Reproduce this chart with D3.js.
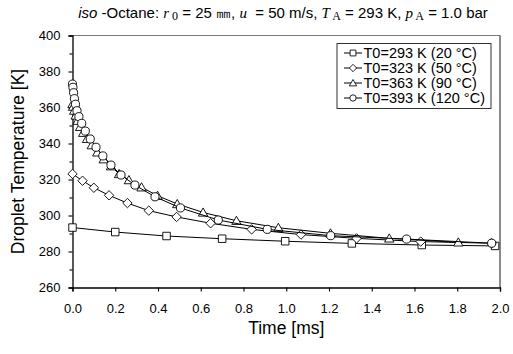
<!DOCTYPE html>
<html>
<head>
<meta charset="utf-8">
<script src="https://cdn.jsdelivr.net/npm/d3@7"></script>
<style>
  body { margin: 0; background: #fff; }
  svg { display: block; }
</style>
</head>
<body>
<svg id="chart" width="513" height="354"></svg>
<script>
// values
var seriesNames = ["T0=293 K (20 °C)", "T0=323 K (50 °C)", "T0=363 K (90 °C)", "T0=393 K (120 °C)"];
var seriesSymbols = ["square", "diamond", "triangle", "circle"];

var t293 = [0, 0.2, 0.44, 0.7, 0.995, 1.307, 1.634, 1.977];
var T293 = [293.3, 290.8, 288.6, 287.1, 285.7, 284.5, 283.6, 283.1];

var t323 = [0, 0.047, 0.1, 0.171, 0.257, 0.357, 0.487, 0.646, 0.838, 1.069, 1.329, 1.629, 1.961];
var T323 = [323.1, 319.3, 315.4, 311.2, 306.9, 302.7, 299.2, 295.7, 292.3, 289.4, 287.3, 285.5, 284.6];

var t363 = [0, 0.003, 0.008, 0.015, 0.024, 0.036, 0.05, 0.068, 0.09, 0.116, 0.146, 0.18, 0.218,
            0.264, 0.323, 0.398, 0.49, 0.611, 0.767, 0.963, 1.207, 1.482, 1.805];
var T363 = [362, 360.5, 358.3, 355.6, 352.7, 349.3, 346, 342.6, 339.1, 335.1, 331.3, 327.4, 323.1,
            319.7, 315.7, 311, 306.4, 301.7, 297.1, 293.2, 290.1, 287.3, 285.1];

var t393 = [0, 0.002, 0.005, 0.009, 0.014, 0.021, 0.03, 0.043, 0.06, 0.083, 0.11, 0.142, 0.18,
            0.227, 0.292, 0.386, 0.505, 0.682, 0.911, 1.208, 1.563, 1.961];
var T393 = [373, 371.2, 368.2, 364.9, 361.8, 358.2, 354.9, 351.2, 346.9, 342.5, 337.9, 333.1, 328,
            322.5, 316.9, 310.4, 304.2, 297.5, 292.3, 288.8, 286.9, 284.6];

var xTicks = [0, 0.2, 0.4, 0.6, 0.8, 1.0, 1.2, 1.4, 1.6, 1.8, 2.0];
var yTicks = [260, 280, 300, 320, 340, 360, 380, 400];

function drawChart() {
    var series = [[t293, T293], [t323, T323], [t363, T363], [t393, T393]].map((s, k) => ({
        name: seriesNames[k],
        symbol: seriesSymbols[k],
        values: s[0].map((t, i) => ({ t: t, T: s[1][i] }))
    }));

    var svg = d3.select("svg#chart");
    var font = "'Liberation Sans', Arial, sans-serif";
    var serif = "'Liberation Serif', 'Times New Roman', serif";

    var pl = 72.5, pr = 500, pt = 35.5, pb = 287.5;

    var x = d3.scaleLinear().domain([0, 2]).range([pl, pr]);
    var y = d3.scaleLinear().domain([260, 400]).range([pb, pt]);

    function symbolPath(name) {
        if (name === "square") return d3.symbol().type(d3.symbolSquare).size(56)();
        if (name === "diamond") return "M0,-4.7L4.7,0L0,4.7L-4.7,0Z";
        if (name === "triangle") return "M0,-4.5L4.7,3.7L-4.7,3.7Z";
        return d3.symbol().type(d3.symbolCircle).size(52)();
    }

    // frame: top in grey, right darker
    svg.append("line")
        .attr("x1", pl).attr("x2", pr).attr("y1", pt).attr("y2", pt)
        .attr("stroke", "#7a7a7a").attr("stroke-width", 1.2);
    svg.append("line")
        .attr("x1", pr).attr("x2", pr).attr("y1", pt).attr("y2", pb)
        .attr("stroke", "#2a2a2a").attr("stroke-width", 1.1);

    var xAxis = svg.append("g")
        .attr("transform", "translate(0," + pb + ")")
        .call(d3.axisBottom(x).tickValues(xTicks).tickFormat(d3.format(".1f")).tickSizeOuter(0).tickSize(4));

    var yAxis = svg.append("g")
        .attr("transform", "translate(" + pl + ",0)")
        .call(d3.axisLeft(y).tickValues(yTicks).tickFormat(d3.format("d")).tickSizeOuter(0).tickSize(4));

    svg.append("g")
        .attr("transform", "translate(" + pl + ",0)")
        .call(d3.axisLeft(y).tickValues(d3.range(270, 400, 20)).tickFormat("").tickSizeOuter(0).tickSize(3))
        .select(".domain").remove();

    svg.selectAll(".domain").attr("stroke", "#000").attr("stroke-width", 1.3);
    svg.selectAll(".tick line").attr("stroke", "#000").attr("stroke-width", 1.1);
    svg.selectAll(".tick text")
        .attr("font-family", font)
        .attr("font-size", "13px")
        .attr("fill", "#000");
    xAxis.selectAll(".tick text").attr("y", 25).attr("dy", 0);
    yAxis.selectAll(".tick text").attr("x", -12);

    // lines and markers
    var line = d3.line().x(d => x(d.t)).y(d => y(d.T));

    var groups = svg.selectAll("g.series")
        .data(series)
        .enter()
        .append("g")
        .attr("class", "series");

    groups.append("path")
        .attr("d", d => line(d.values))
        .attr("fill", "none")
        .attr("stroke", "#000")
        .attr("stroke-width", 1);

    groups.each(function(s) {
        d3.select(this)
            .selectAll("path.mark")
            .data(s.values)
            .enter()
            .append("path")
            .attr("class", "mark")
            .attr("transform", d => "translate(" + x(d.t) + "," + y(d.T) + ")")
            .attr("d", symbolPath(s.symbol))
            .attr("fill", "#fff")
            .attr("stroke", "#000")
            .attr("stroke-width", 0.9);
    });

    // legend
    var legend = svg.append("g").attr("transform", "translate(337,43.5)");
    legend.append("rect")
        .attr("width", 154)
        .attr("height", 65)
        .attr("fill", "#fff")
        .attr("stroke", "#333")
        .attr("stroke-width", 1);

    var rows = legend.selectAll("g.row")
        .data(series)
        .enter()
        .append("g")
        .attr("class", "row")
        .attr("transform", (d, i) => "translate(0," + (9.5 + i * 15) + ")");

    rows.append("line")
        .attr("x1", 7).attr("x2", 25)
        .attr("stroke", "#000").attr("stroke-width", 1);
    rows.append("path")
        .attr("transform", "translate(16,0) scale(0.78)")
        .attr("d", d => symbolPath(d.symbol))
        .attr("fill", "#fff")
        .attr("stroke", "#000")
        .attr("stroke-width", 1.1);
    rows.append("text")
        .attr("x", 26.5)
        .attr("dy", "0.36em")
        .attr("font-family", font)
        .attr("font-size", "14.5px")
        .text(d => d.name);

    // axis titles
    svg.append("text")
        .attr("x", (pl + pr) / 2)
        .attr("y", 334)
        .attr("text-anchor", "middle")
        .attr("font-family", font)
        .attr("font-size", "17.5px")
        .text("Time [ms]");

    svg.append("text")
        .attr("transform", "translate(24," + (pt + pb) / 2 + ") rotate(-90)")
        .attr("text-anchor", "middle")
        .attr("font-family", font)
        .attr("font-size", "17.5px")
        .text("Droplet Temperature [K]");

    // title with italic symbols and subscripts
    var title = svg.append("text")
        .attr("x", 283)
        .attr("y", 18)
        .attr("text-anchor", "middle")
        .attr("font-family", font)
        .attr("font-size", "15px");
    var parts = [
        ["iso", "italic", font], [" -Octane: ", "", font], ["r", "italic", serif], [" 0", "sub", serif],
        [" = 25 ", "", font], ["㎜", "", font], [", ", "", font], ["u", "italic", serif],
        ["  = 50 m/s, ", "", font], ["T", "italic", serif], [" A", "sub", serif],
        [" = 293 K, ", "", font], ["p", "italic", serif], [" A", "sub", serif], [" = 1.0 bar", "", font]
    ];
    parts.forEach((p, i) => {
        var ts = title.append("tspan")
            .attr("font-family", p[2])
            .attr("xml:space", "preserve")
            .text(p[0]);
        if (p[1] === "italic") ts.attr("font-style", "italic");
        if (p[1] === "sub") ts.attr("font-size", "12px").attr("dy", 2);
        if (p[1] !== "sub" && i > 0 && parts[i - 1][1] === "sub") ts.attr("dy", -2);
    });
}

drawChart();
</script>
</body>
</html>
